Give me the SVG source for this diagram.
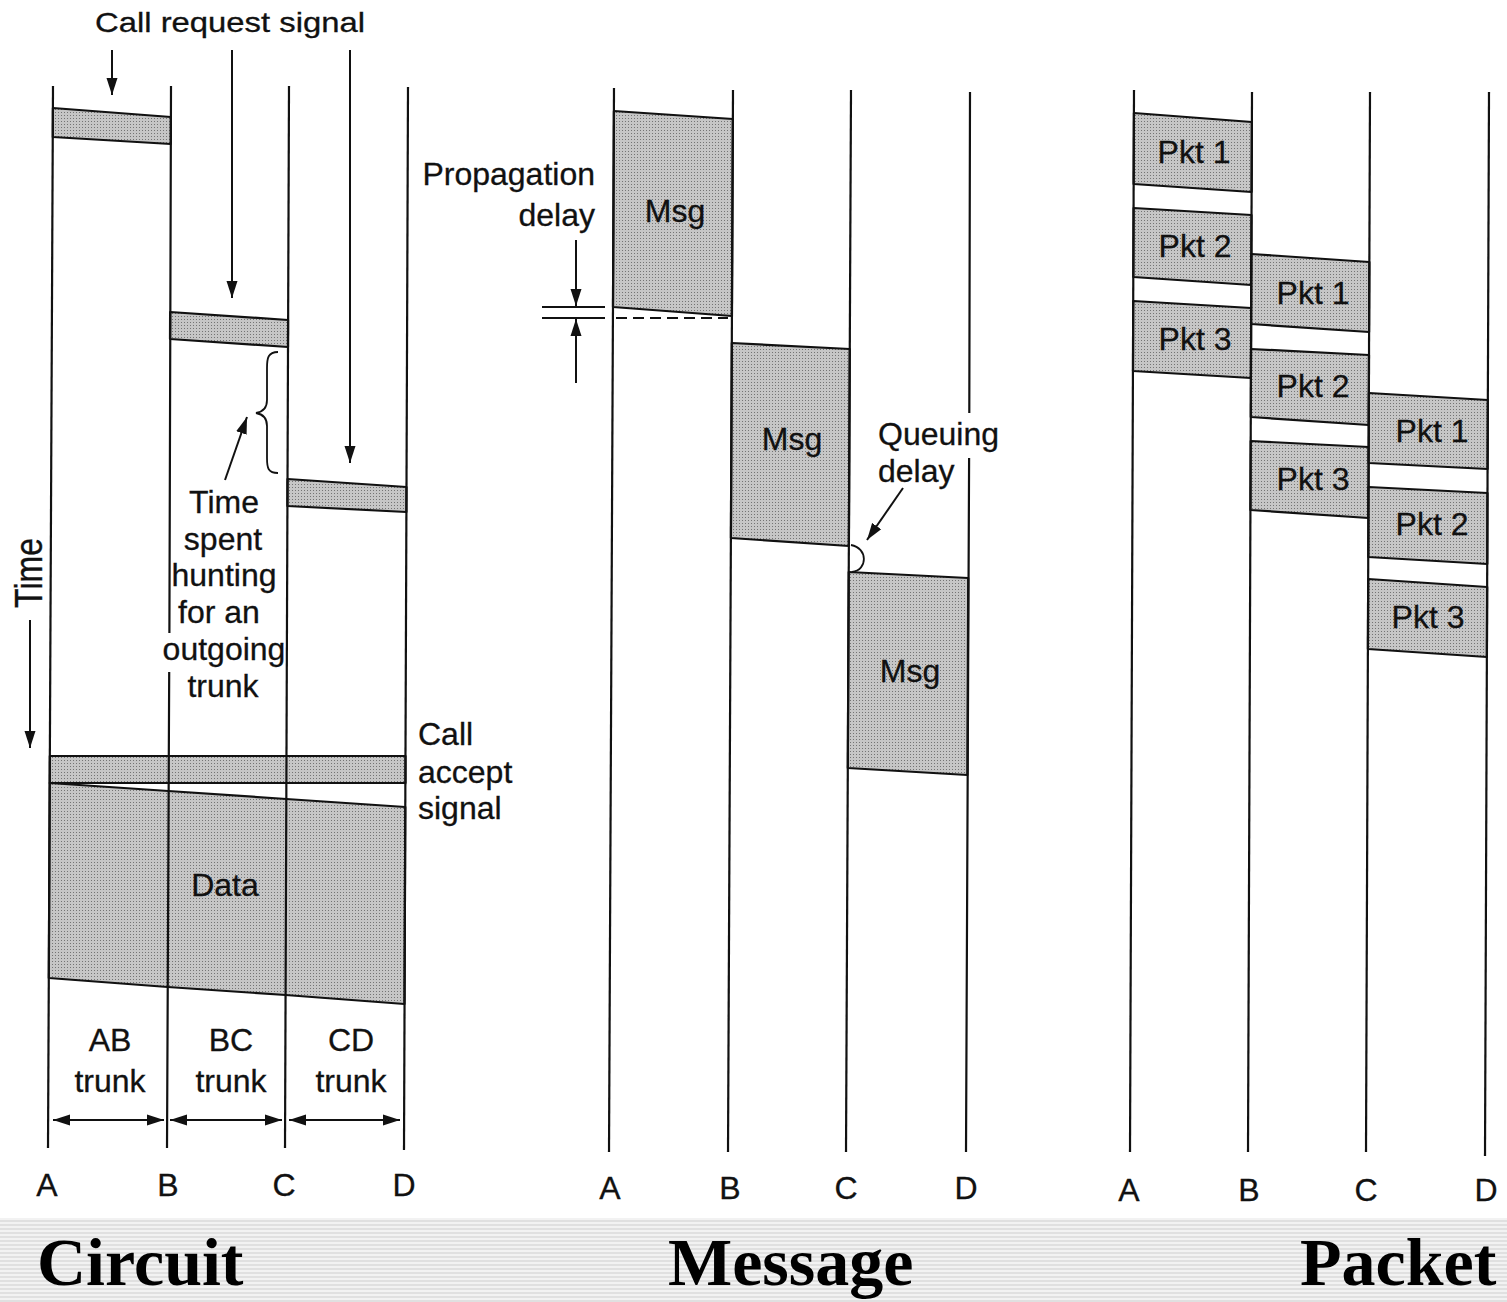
<svg xmlns="http://www.w3.org/2000/svg" width="1507" height="1302" viewBox="0 0 1507 1302">
  <defs>
    <!-- halftone grey used for every transmission block -->
    <pattern id="stipple" width="3" height="3" patternUnits="userSpaceOnUse">
      <rect width="3" height="3" fill="#c6c6c6"/>
      <rect x="1" y="1" width="1" height="1" fill="#747474"/>
    </pattern>
    <!-- striped footer band -->
    <pattern id="stripes" width="4" height="4" patternUnits="userSpaceOnUse">
      <rect width="4" height="4" fill="#f2f2f2"/>
      <rect width="4" height="2" fill="#e0e0e0"/>
    </pattern>
    <marker id="head" markerUnits="userSpaceOnUse" markerWidth="18" markerHeight="12" refX="17" refY="6" orient="auto-start-reverse">
      <path d="M0,0.5 L17,6 L0,11.5 z" fill="#111"/>
    </marker>
  </defs>
  <style>
    .wire { fill: none; stroke: #111; stroke-width: 2.2; }
    .blk { fill: url(#stipple); stroke: #111; stroke-width: 2.2; stroke-linejoin: round; }
    .arr { fill: none; stroke: #111; stroke-width: 2; marker-end: url(#head); }
    .dbl { fill: none; stroke: #111; stroke-width: 2; marker-start: url(#head); marker-end: url(#head); }
    .thin { fill: none; stroke: #111; stroke-width: 1.8; }
    text { font-family: "Liberation Sans", Arial, sans-serif; font-size: 32px; fill: #111; stroke: #111; stroke-width: 0.3; }
    .lbl { stroke: #111; stroke-width: 0.8; }
    .mid { text-anchor: middle; }
    .end { text-anchor: end; }
    .title { font-family: "Liberation Serif", "Times New Roman", serif; font-weight: bold; font-size: 68px; fill: #000; stroke: none; }
  </style>

  <rect width="1507" height="1302" fill="#fff"/>

  <!-- ===== Circuit switching ===== -->
  <g id="circuit">
    <g id="circuit-blocks">
      <polygon id="call-request-ab" class="blk" points="52.9,108 170.9,117 170.8,144 52.8,137"/>
      <polygon id="call-request-bc" class="blk" points="170.1,312 288.1,320 288,347 170,339"/>
      <polygon id="call-request-cd" class="blk" points="287.5,479 406.5,487 406.4,512 287.4,506"/>
      <polygon id="call-accept" class="blk" points="49.8,756 405.5,756 405.5,783 49.7,783"/>
      <polygon id="circuit-data" class="blk" points="49.7,783 168.4,791 286.3,799 405.3,807 404.5,1004 285.6,995 167.6,987 48.8,978"/>
    </g>
    <g id="circuit-wires">
      <path id="circuit-a" class="wire" d="M53,86 L48,1148"/>
      <path id="circuit-b" class="wire" d="M171,86 L169.4,633 M169.2,672 L167,1148"/>
      <path id="circuit-c" class="wire" d="M289,86 L285,1148"/>
      <path id="circuit-d" class="wire" d="M408,87 L404,1150"/>
    </g>
    <text x="230" y="32" class="mid" style="font-size:28px" textLength="270" lengthAdjust="spacingAndGlyphs">Call request signal</text>
    <g class="mid">
      <text x="224" y="513">Time</text>
      <text x="223" y="550">spent</text>
      <text x="224" y="586">hunting</text>
      <text x="219" y="623">for an</text>
      <text x="224" y="660">outgoing</text>
      <text x="223" y="697">trunk</text>
      <text x="225" y="896">Data</text>
      <text x="110" y="1051">AB</text>
      <text x="110" y="1092">trunk</text>
      <text x="231" y="1051">BC</text>
      <text x="231" y="1092">trunk</text>
      <text x="351" y="1051">CD</text>
      <text x="351" y="1092">trunk</text>
      <text x="47" y="1196">A</text>
      <text x="168" y="1196">B</text>
      <text x="284" y="1196">C</text>
      <text x="404" y="1196">D</text>
    </g>
    <text x="418" y="745">Call</text>
    <text x="418" y="783">accept</text>
    <text x="418" y="819">signal</text>
    <text class="mid" transform="translate(42,573) rotate(-90) scale(1,1.2)">Time</text>
  </g>

  <!-- ===== Message switching ===== -->
  <g id="message">
    <g id="message-blocks">
      <polygon id="msg-ab" class="blk" points="613.9,111 732.9,119 731.9,316 613,307"/>
      <polygon id="msg-bc" class="blk" points="731.8,343 849.8,349 848.9,546 730.9,538"/>
      <polygon id="msg-cd" class="blk" points="848.7,572 968.2,578 967.4,775 847.8,768"/>
    </g>
    <g id="message-wires">
      <path id="message-a" class="wire" d="M614,88 L609,1152"/>
      <path id="message-b" class="wire" d="M733,90 L728,1152"/>
      <path id="message-c" class="wire" d="M851,90 L846,1152"/>
      <path id="message-d" class="wire" d="M970,92 L969.3,413 M969.1,458 L966,1152"/>
    </g>
    <g class="lbl mid">
      <text x="675" y="222">Msg</text>
      <text x="792" y="450">Msg</text>
      <text x="910" y="682">Msg</text>
    </g>
    <text x="595" y="185" class="end">Propagation</text>
    <text x="595" y="226" class="end">delay</text>
    <text x="878" y="445">Queuing</text>
    <text x="878" y="482">delay</text>
    <g class="mid">
      <text x="610" y="1199">A</text>
      <text x="730" y="1199">B</text>
      <text x="846" y="1199">C</text>
      <text x="966" y="1199">D</text>
    </g>
  </g>

  <!-- ===== Packet switching ===== -->
  <g id="packet">
    <g id="packet-blocks">
      <polygon id="pkt1-ab" class="blk" points="1133.9,113 1251.9,122 1251.6,192 1133.6,184"/>
      <polygon id="pkt2-ab" class="blk" points="1133.6,208 1251.5,215 1251.3,285 1133.3,277"/>
      <polygon id="pkt3-ab" class="blk" points="1133.2,301 1251.2,308 1251,378 1133,371"/>
      <polygon id="pkt1-bc" class="blk" points="1251.4,254 1369.4,262 1369.1,332 1251.1,324"/>
      <polygon id="pkt2-bc" class="blk" points="1251,349 1369,355 1368.8,425 1250.8,417"/>
      <polygon id="pkt3-bc" class="blk" points="1250.7,441 1368.7,447 1368.4,518 1250.4,510"/>
      <polygon id="pkt1-cd" class="blk" points="1368.9,393 1487.9,400 1487.6,469 1368.6,463"/>
      <polygon id="pkt2-cd" class="blk" points="1368.5,487 1487.5,493 1487.3,564 1368.3,557"/>
      <polygon id="pkt3-cd" class="blk" points="1368.2,579 1487.2,587 1486.9,657 1367.9,649"/>
    </g>
    <g id="packet-wires">
      <path id="packet-a" class="wire" d="M1134,90 L1130,1152"/>
      <path id="packet-b" class="wire" d="M1252,92 L1248,1152"/>
      <path id="packet-c" class="wire" d="M1370,92 L1366,1152"/>
      <path id="packet-d" class="wire" d="M1489,92 L1485,1156"/>
    </g>
    <g class="lbl mid">
      <text x="1194" y="163">Pkt 1</text>
      <text x="1195" y="257">Pkt 2</text>
      <text x="1195" y="350">Pkt 3</text>
      <text x="1313" y="304">Pkt 1</text>
      <text x="1313" y="397">Pkt 2</text>
      <text x="1313" y="490">Pkt 3</text>
      <text x="1432" y="442">Pkt 1</text>
      <text x="1432" y="535">Pkt 2</text>
      <text x="1428" y="628">Pkt 3</text>
    </g>
    <g class="mid">
      <text x="1129" y="1201">A</text>
      <text x="1249" y="1201">B</text>
      <text x="1366" y="1201">C</text>
      <text x="1486" y="1201">D</text>
    </g>
  </g>

  <!-- ===== annotation arrows and markers ===== -->
  <g id="connectors">
    <path class="arr" d="M112,50 L112,95"/>
    <path class="arr" d="M232,50 L232,298"/>
    <path class="arr" d="M350,50 L350,463"/>
    <path class="thin" d="M278,352 C268,352 267,358 267,368 L267,400 C267,408 262,412 256,413 C262,414 267,418 267,426 L267,458 C267,468 268,473 278,473"/>
    <path class="arr" d="M225,480 L247,417"/>
    <path class="arr" d="M30,620 L30,748"/>
    <path class="dbl" d="M53,1120 L164,1120"/>
    <path class="dbl" d="M170,1120 L282,1120"/>
    <path class="dbl" d="M289,1120 L400,1120"/>
    <path class="thin" d="M542,307 L605,307 M542,318 L605,318"/>
    <path class="arr" d="M576,240 L576,306"/>
    <path class="arr" d="M576,383 L576,319"/>
    <path class="thin" d="M616,318 L728,318" stroke-dasharray="11,6"/>
    <path class="arr" d="M903,488 L867,540"/>
    <path class="thin" d="M851,545 C868,548 868,570 852,572"/>
  </g>

  <!-- ===== footer captions ===== -->
  <g id="footer">
    <rect x="0" y="1218" width="1507" height="84" fill="url(#stripes)"/>
    <text x="37" y="1285" class="title">Circuit</text>
    <text x="668" y="1285" class="title">Message</text>
    <text x="1300" y="1285" class="title">Packet</text>
  </g>
</svg>
